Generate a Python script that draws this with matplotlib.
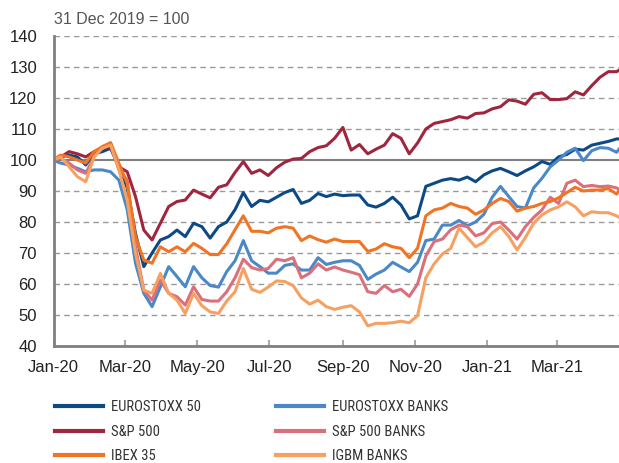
import matplotlib
matplotlib.use("Agg")
import matplotlib.pyplot as plt
from matplotlib import font_manager as fm
import pandas as pd

plt.rcParams.update({"font.family": ["Liberation Sans", "DejaVu Sans"]})

# weekly readings, 31 Dec 2019 = 100, plus last day
dates = list(pd.date_range("2019-12-31", periods=69, freq="7D")) + [pd.Timestamp("2021-04-22")]

eurostoxx50 = [100, 101, 101.6, 101, 98.4, 102, 102.7, 103.8, 97.8, 91, 76.3, 65.6, 70, 74.2, 75.3, 77.4, 75.3, 79.6,
               78.5, 74.8, 78.5, 80, 84, 89.5, 85, 87, 86.5, 88, 89.5, 90.5, 86, 87, 89.2, 88.2, 89,
               88.5, 88.7, 88.7, 85.5, 84.8, 86, 88, 85.5, 81, 82, 91.5, 92.5, 93.5, 94, 93.5, 94.5, 93,
               95.2, 96.5, 97.3, 96.2, 95, 96.5, 97.8, 99.5, 98.6, 101, 101.8, 103.5, 103.2, 104.8, 105.4, 106, 106.8,
               106.8]
sp500 = [100, 101, 102.7, 102, 101, 102.7, 103.8, 104.3, 97.8, 96.2, 88.2, 77.4, 74.2, 79.6, 85, 86.6, 87.1, 90.3,
         89, 87.8, 91.2, 92, 96, 99.5, 95.7, 96.8, 95, 97.5, 99.3, 100.3, 100.5, 102.7, 104, 104.6, 107,
         110.5, 103.2, 105, 102, 103.5, 104.8, 108.5, 107, 102, 105.5, 110, 111.8, 112.4, 113, 114, 113.5, 115,
         115.2, 116.5, 117.2, 119.4, 119, 118, 121.2, 121.7, 119.5, 119.5, 119.8, 122, 121, 124, 126.7, 128.5, 128.5,
         129]
ibex35 = [100, 101.6, 101, 100, 99, 102.7, 104.3, 105.6, 98.9, 92.5, 75.3, 67.7, 66.7, 72, 70.4, 72, 70.4, 73.1,
          71.5, 69.5, 69.5, 73, 77.5, 82, 77, 77, 76.5, 78, 78.5, 78, 74, 75.5, 74.3, 73.5, 74.5,
          73.7, 73.7, 73.7, 70.5, 71.3, 73, 72, 71.5, 68.5, 71.5, 82, 83.9, 84.5, 86, 85, 84.5, 82.5,
          83.9, 86, 87.6, 86.6, 83.5, 84.5, 85, 86, 86.6, 87.8, 89.5, 91.2, 90, 90.3, 90.3, 90.8, 89,
          90.3]
eurostoxx_banks = [100, 99, 98.4, 97.3, 96.2, 96.8, 96.8, 96.2, 93.5, 84, 66.7, 57, 52.7, 59.1, 65.6, 62.4, 59.1, 65.6,
                   62, 59.5, 59, 64, 67.5, 74, 67.5, 65.6, 63.5, 63.5, 66, 66.5, 64.5, 64.5, 68.5, 66.3, 67,
                   67.5, 67.5, 66, 61.5, 63.2, 64.5, 67, 65.5, 64, 67, 74, 74.5, 79, 79, 80.5, 78.8, 80,
                   82.5, 88, 91.5, 88.2, 85, 84.5, 91, 94.1, 97.8, 100, 102.5, 103.8, 99.8, 103, 104, 103.8, 102.5,
                   103.5]
sp500_banks = [100, 100.5, 99, 96.8, 95.7, 101, 104.3, 105.4, 96.8, 93.5, 72, 58, 54.8, 61.3, 57, 55.9, 53.2, 59.1,
               55, 54.5, 54.5, 57.5, 62, 68, 65.3, 64.5, 65, 68, 67.5, 68.5, 62, 63.5, 66.5, 64.5, 65.5,
               64.5, 63.8, 63, 57.5, 57, 59.5, 57.5, 58.3, 56, 60, 69, 73.7, 74.5, 77.5, 79, 78.5, 75.5,
               76.5, 79.5, 80, 77.4, 74.5, 78.5, 81.5, 83.9, 88, 86, 92.5, 93.5, 91.4, 91.8, 91.4, 91.6, 91,
               90.5]
igbm_banks = [100, 101, 97.8, 94.6, 93, 101, 103.8, 104.8, 96.8, 87, 69.9, 58, 57, 63.4, 57, 54.8, 50.5, 57,
              53, 51, 50.5, 54.5, 57.5, 65, 58.3, 57.3, 59, 61, 60.8, 59.5, 55.5, 53.5, 54.8, 52.7, 51.8,
              52.5, 53, 51, 46.5, 47.3, 47.3, 47.5, 48, 47.5, 49.8, 62, 66.5, 69.7, 71.5, 78, 75, 72,
              73.5, 76.5, 78.5, 75.3, 71, 75, 79.6, 82.3, 83.9, 84.9, 86.5, 84.9, 82, 83.3, 83, 83, 82,
              81.5]

series = [
    ("EUROSTOXX 50", eurostoxx50, "#0d4a85"),
    ("S&P 500", sp500, "#a0253f"),
    ("IBEX 35", ibex35, "#f07424"),
    ("EUROSTOXX BANKS", eurostoxx_banks, "#4a88c7"),
    ("S&P 500 BANKS", sp500_banks, "#d9707c"),
    ("IGBM BANKS", igbm_banks, "#f6a061"),
]
draw_order = [0, 1, 3, 4, 2, 5]

# condensed face for the legend if one is installed
names = {f.name for f in fm.fontManager.ttflist}
narrow = next((n for n in ["Liberation Sans Narrow", "Roboto Condensed", "Open Sans Condensed",
                           "Noto Sans Condensed", "DejaVu Sans Condensed"] if n in names), None)
if narrow is None:
    cond = [f for f in fm.fontManager.ttflist if "condensed" in str(f.stretch).lower()
            and "bold" not in str(f.weight).lower() and f.style == "normal"]
    if cond:
        leg_prop = fm.FontProperties(fname=cond[0].fname, size=10.5)
    else:
        leg_prop = fm.FontProperties(family="Liberation Sans", size=9)
else:
    leg_prop = fm.FontProperties(family=narrow, size=10.5)

fig = plt.figure(figsize=(6.19, 4.63), dpi=100)
ax = fig.add_axes([0.0868, 0.2527, 0.9132, 0.6695])

handles = {}
for i in draw_order:
    lab, vals, c = series[i]
    handles[i], = ax.plot(dates, vals, color=c, lw=2.2, label=lab, solid_joinstyle="round")

ax.set_ylim(40, 140)
ax.set_yticks(range(40, 141, 10))
ax.set_xlim(pd.Timestamp("2020-01-01"), pd.Timestamp("2021-04-22"))
ticks = pd.date_range("2020-01-01", "2021-03-01", freq="2MS")
ax.set_xticks(ticks)
ax.set_xticklabels([d.strftime("%b-%y") for d in ticks])

for v in range(50, 141, 10):
    if v != 100:
        ax.axhline(v, color="#999999", lw=1, ls=(0, (4, 3)), zorder=0)
ax.axhline(100, color="#808080", lw=1.5, zorder=0.5)

for s in ["top", "right"]:
    ax.spines[s].set_visible(False)
for s in ["left", "bottom"]:
    ax.spines[s].set_color("#808080")
    ax.spines[s].set_linewidth(2)
ax.tick_params(axis="y", length=0, pad=12, labelsize=12, labelcolor="#222222")
ax.tick_params(axis="x", direction="in", length=4.5, width=1.2, color="#999999",
               pad=10, labelsize=12, labelcolor="#222222")

fig.text(0.0868, 0.948, "31 Dec 2019 = 100", fontsize=11.5, color="#555555", ha="left", va="baseline")

leg = fig.legend([handles[i] for i in range(6)], [s[0] for s in series], ncol=2,
                 loc="upper left", bbox_to_anchor=(0.089, 0.135), frameon=False,
                 prop=leg_prop, labelcolor="#333333", handlelength=3.3, handletextpad=0.55,
                 columnspacing=5.1, labelspacing=0.72, borderaxespad=0, borderpad=0)
for h in leg.get_lines():
    h.set_linewidth(3)

fig.savefig("out.png", dpi=100)
